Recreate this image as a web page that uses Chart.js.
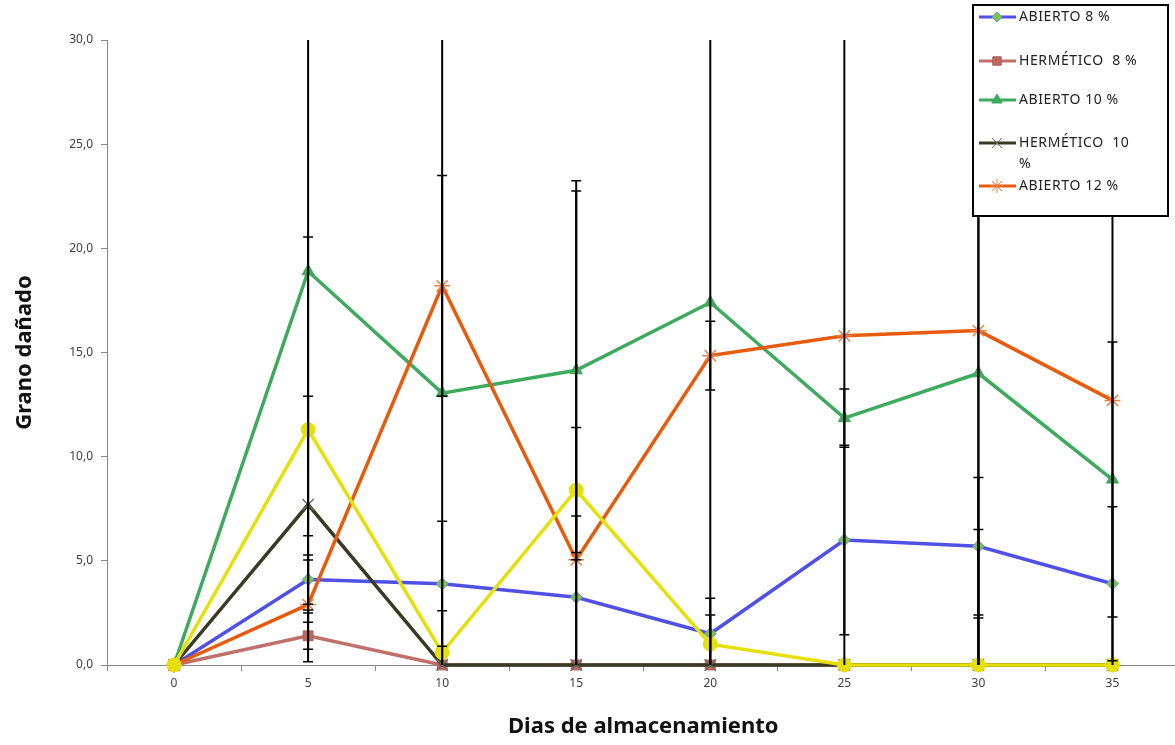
<!DOCTYPE html>
<html>
<head>
<meta charset="utf-8">
<title>Grano dañado</title>
<script src="https://cdn.jsdelivr.net/npm/chart.js@4.4.1/dist/chart.umd.min.js"></script>
<style>
    html, body { margin: 0; padding: 0; background: #fff; overflow: hidden; }
    #wrap { position: relative; width: 1175px; height: 745px; overflow: hidden; }
    canvas { display: block; }
</style>
</head>
<body>
<div id="wrap"><canvas id="grafico" width="1189" height="745"></canvas></div>
<script>
// dias de almacenamiento
const dias = ['0', '5', '10', '15', '20', '25', '30', '35'];

// valores medios de cada tratamiento
const abierto8 = [0, 4.1, 3.9, 3.25, 1.5, 6.0, 5.7, 3.9];
const hermetico8 = [0, 1.4, 0, 0, 0, 0, 0, 0];
const abierto10 = [0, 18.9, 13.05, 14.15, 17.4, 11.85, 14.0, 8.9];
const hermetico10 = [0, 7.7, 0, 0, 0, 0, 0, 0];
const abierto12 = [0, 2.9, 18.2, 5.05, 14.85, 15.8, 16.05, 12.7];
const hermetico12 = [0, 11.3, 0.6, 8.4, 1.0, 0, 0, 0];

// error (+/-) de cada punto
const errAbierto8 = [0, 1.18, 3.0, 3.9, 1.7, 4.55, 3.3, 3.7];
const errHermetico8 = [0, 1.24, 0, 0, 0, 0, 2.26, 0];
const errAbierto10 = [0, 12.7, 17.5, 9.1, 18, 1.4, 17, 6.6];
const errHermetico10 = [0, 5.2, 0, 0, 0, 0, 0, 0];
const errAbierto12 = [0, 2.14, 5.3, 17.7, 1.65, 16, 17, 18];
const errHermetico12 = [0, 9.25, 2.0, 3.0, 1.4, 0, 6.5, 0];

const yTicks = [0, 5, 10, 15, 20, 25, 30];

const series = [
    { label: 'ABIERTO 8 %', data: abierto8, err: errAbierto8, color: '#5050E6', style: 'rectRot', fill: '#7DC24B', border: '#6A8FD0', radius: 6, order: 6 },
    { label: 'HERMÉTICO  8 %', data: hermetico8, err: errHermetico8, color: '#C0706B', style: 'rect', fill: '#BF6662', border: '#B0605C', radius: 7, order: 5 },
    { label: 'ABIERTO 10 %', data: abierto10, err: errAbierto10, color: '#3DAA5D', style: 'triangle', fill: '#3DAA5D', border: '#3DAA5D', radius: 7, order: 4 },
    { label: 'HERMÉTICO  10 %', data: hermetico10, err: errHermetico10, color: '#3A3A24', style: 'crossRot', fill: '#6E6E60', border: '#6E6E60', radius: 8, order: 3 },
    { label: 'ABIERTO 12 %', data: abierto12, err: errAbierto12, color: '#E95B0C', style: 'star', fill: '#F08040', border: '#F08040', radius: 8, order: 2 },
    { label: 'HERMÉTICO 12 %', data: hermetico12, err: errHermetico12, color: '#E6E00A', style: 'circle', fill: '#E6E00A', border: '#E6E00A', radius: 7, order: 1 }
];

// barras de error negras, recortadas al area del grafico
const errorBars = {
    id: 'errorBars',
    afterDatasetsDraw(chart) {
        const ctx = chart.ctx;
        const area = chart.chartArea;
        const x = chart.scales.x;
        const y = chart.scales.y;
        ctx.save();
        ctx.beginPath();
        ctx.rect(area.left, area.top, area.right - area.left, area.bottom - area.top);
        ctx.clip();
        ctx.strokeStyle = '#000';
        series.forEach(s => {
            s.data.forEach((v, i) => {
                const e = s.err[i];
                if (!e) return;
                const px = x.getPixelForValue(i);
                const top = y.getPixelForValue(v + e);
                const bot = y.getPixelForValue(v - e);
                ctx.lineWidth = 2;
                ctx.beginPath();
                ctx.moveTo(px, top);
                ctx.lineTo(px, bot);
                ctx.stroke();
                ctx.lineWidth = 1.5;
                [v + e, v - e].forEach(val => {
                    if (val < 0 || val > 30) return;
                    const py = y.getPixelForValue(val);
                    ctx.beginPath();
                    ctx.moveTo(px - 5, py);
                    ctx.lineTo(px + 5, py);
                    ctx.stroke();
                });
            });
        });
        ctx.restore();
    }
};

// leyenda con marco, encima del grafico (como en el original, cortada)
const legendBox = {
    id: 'legendBox',
    afterDraw(chart) {
        const ctx = chart.ctx;
        const bx = 973, by = 5, bw = 195, bh = 211;
        ctx.save();
        ctx.fillStyle = '#fff';
        ctx.fillRect(bx, by, bw, bh);
        ctx.strokeStyle = '#000';
        ctx.lineWidth = 2;
        ctx.strokeRect(bx, by, bw, bh);
        const rows = [
            { s: series[0], y: 17, text: ['ABIERTO 8 %'] },
            { s: series[1], y: 61, text: ['HERMÉTICO  8 %'] },
            { s: series[2], y: 100, text: ['ABIERTO 10 %'] },
            { s: series[3], y: 143, text: ['HERMÉTICO  10', '%'] },
            { s: series[4], y: 186, text: ['ABIERTO 12 %'] }
        ];
        ctx.font = '14px "Noto Sans", sans-serif';
        ctx.letterSpacing = '0.6px';
        ctx.textBaseline = 'middle';
        rows.forEach(r => {
            ctx.strokeStyle = r.s.color;
            ctx.lineWidth = 3;
            ctx.beginPath();
            ctx.moveTo(979, r.y);
            ctx.lineTo(1016, r.y);
            ctx.stroke();
            ctx.fillStyle = r.s.fill;
            ctx.strokeStyle = r.s.border;
            ctx.lineWidth = 1;
            Chart.helpers.drawPoint(ctx, { pointStyle: r.s.style, radius: r.s.radius - 1, borderWidth: r.s.style === 'crossRot' || r.s.style === 'star' ? 1.5 : 1, rotation: 0 }, 997, r.y);
            ctx.fillStyle = '#222';
            r.text.forEach((t, k) => ctx.fillText(t, 1019, r.y + k * 21));
        });
        ctx.restore();
    }
};

const ctx = document.getElementById('grafico').getContext('2d');
new Chart(ctx, {
    type: 'line',
    data: {
        labels: dias,
        datasets: series.map(s => ({
            label: s.label,
            data: s.data,
            borderColor: s.color,
            borderWidth: 3.5,
            backgroundColor: s.fill,
            pointStyle: s.style,
            pointRadius: s.radius,
            pointBackgroundColor: s.fill,
            pointBorderColor: s.border,
            pointBorderWidth: s.style === 'crossRot' || s.style === 'star' ? 1.5 : 1,
            tension: 0,
            order: s.order,
            clip: false
        }))
    },
    options: {
        responsive: false,
        animation: false,
        devicePixelRatio: 1,
        layout: { padding: { top: 40, right: 0, bottom: 0, left: 0 } },
        plugins: {
            legend: { display: false },
            tooltip: { enabled: false }
        },
        scales: {
            x: {
                offset: true,
                grid: { display: true, drawOnChartArea: false, drawTicks: true, tickLength: 6, color: '#888', offset: true },
                border: { color: '#888', width: 1 },
                ticks: { color: '#404040', font: { size: 12, family: '"Noto Sans", sans-serif' }, padding: 5 },
                title: { display: true, text: 'Dias de almacenamiento', color: '#111', font: { size: 22, weight: 'bold', family: '"Noto Sans", sans-serif' }, padding: { top: 0, bottom: 5 } },
                afterFit(scale) { scale.height = 80; }
            },
            y: {
                min: 0,
                max: 30,
                afterBuildTicks(scale) { scale.ticks = yTicks.map(v => ({ value: v })); },
                grid: { display: true, drawOnChartArea: false, drawTicks: true, tickLength: 6, color: '#888' },
                border: { color: '#888', width: 1 },
                ticks: {
                    color: '#404040',
                    font: { size: 12, family: '"Noto Sans", sans-serif' },
                    padding: 8,
                    callback: v => v.toFixed(1).replace('.', ',')
                },
                title: { display: true, text: 'Grano dañado', color: '#111', font: { size: 22, weight: 'bold', family: '"Noto Sans", sans-serif' }, padding: { top: 12, bottom: 0 } },
                afterFit(scale) { scale.width = 107; }
            }
        }
    },
    plugins: [errorBars, legendBox]
});
</script>
</body>
</html>
